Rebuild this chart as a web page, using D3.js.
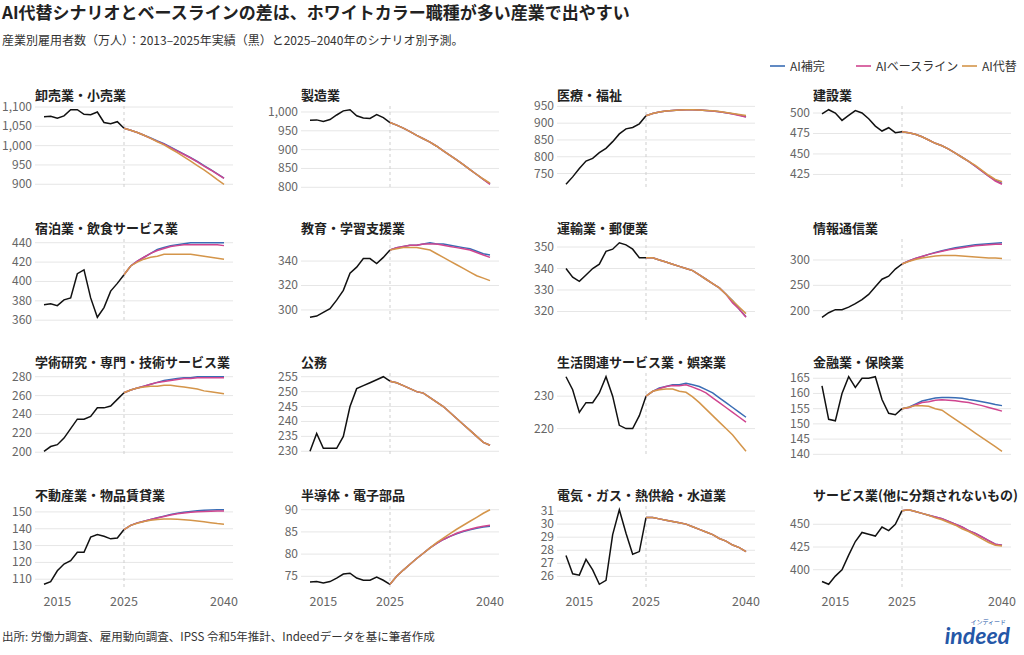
<!DOCTYPE html>
<html><head><meta charset="utf-8">
<script src="https://cdn.jsdelivr.net/npm/d3@7"></script>
<style>body{margin:0;background:#fff;font-family:"Noto Sans CJK JP","Noto Sans",sans-serif;}</style>
</head><body><svg id="c" width="1024" height="655"></svg>
<script>
const actualYears = d3.range(2013, 2026);
const projYears = d3.range(2025, 2041);
const panelTitles = ["卸売業・小売業","製造業","医療・福祉","建設業","宿泊業・飲食サービス業","教育・学習支援業","運輸業・郵便業","情報通信業","学術研究・専門・技術サービス業","公務","生活関連サービス業・娯楽業","金融業・保険業","不動産業・物品賃貸業","半導体・電子部品","電気・ガス・熱供給・水道業","サービス業(他に分類されないもの)"];
const yTicks = [[900,950,1000,1050,1100],[800,850,900,950,1000],[750,800,850,900,950],[425,450,475,500],[360,380,400,420,440],[300,320,340],[320,330,340,350],[200,250,300],[200,220,240,260,280],[230,235,240,245,250,255],[220,230],[140,145,150,155,160,165],[110,120,130,140,150],[75,80,85,90],[26,27,28,29,30,31],[400,425,450]];
const xTicks = [2015, 2025, 2040];
const seriesNames = ["AI補完","AIベースライン","AI代替"];
const actual = [
[1075,1076,1071,1077,1093,1093,1081,1080,1087,1060,1057,1062,1045],
[978,979,975,980,992,1003,1006,990,984,983,993,985,972],
[718,740,765,787,795,812,825,845,868,883,887,898,922],
[499,504,500,491,497,503,500,493,484,478,482,476,477],
[376,377,375,381,383,408,412,383,363,373,390,398,407],
[294,295,298,301,308,316,330,335,342,342,338,343,349],
[340,336,334,337,340,342,348,349,352,351,349,345,345],
[187,196,202,202,207,214,222,232,247,262,268,282,292],
[201,206,208,215,225,235,235,238,247,247,249,256,263],
[230,236,231,231,231,235,245,251,252,253,254,255,253.5],
[236,232,225,228,228,231,236,230,221,220,220,224,230],
[162.5,151.5,151,160,165.5,162,165,165,165.5,158,153.5,153,155],
[107,108.5,115,119,121,126,126,135,136.5,135.5,134,134.5,139.5],
[73.7,73.8,73.5,73.8,74.6,75.5,75.7,74.6,74.1,74.1,74.8,74.1,73.2],
[27.6,26.2,26.1,27.3,26.5,25.4,25.7,29.2,31.1,29.3,27.7,27.9,30.5],
[387,384,393,400,416,431,441,439,437,447,443,450,465]];
const complement = [
[1045,1040,1034,1027,1020,1012,1005,996,987,978,969,959,948,938,927,916],
[972,965,957,948,938,929,920,909,897,885,873,860,847,834,821,809],
[922,929,933,936,938,939,940,940,939,938,936,934,931,928,924,919],
[477,476,474,471,467,463,460,456,451,446,441,435,429,423,418,414],
[407,416,421,425,429,433,435,437,438,439,440,440,440,440,440,440],
[349,351,352,353,353,354,355,354,354,353,352,351,350,348,346,345],
[345,345,344,343,342,341,340,339,337,335,333,331,328,325,321,317.5],
[292,298,303,307,311,315,318,321,324,326,328,330,331,332,333,334],
[263,266,268,270,272,274,276,277,278,279,279,280,280,280,280,280],
[253.5,253,252,251,250,249.5,248,246.5,245,243,241,239,237,235,233,232],
[230,231.5,232.5,233,233.5,233.5,234,233.5,233,232,231,229.5,228,226.5,225,223.5],
[155,155.5,156.5,157.5,158,158.5,158.7,158.7,158.6,158.4,158,157.7,157.3,156.9,156.4,156],
[139.5,142,143.5,144.5,145.5,146.5,147.5,148.5,149.2,149.8,150.3,150.7,151,151.2,151.3,151.3],
[73.2,75,76.4,77.7,79,80.2,81.4,82.4,83.3,84,84.6,85.1,85.5,85.8,86.1,86.3],
[30.5,30.5,30.4,30.3,30.2,30.1,30.0,29.8,29.6,29.4,29.2,28.9,28.7,28.4,28.2,27.9],
[465,466,464,462,460,458,456,453,450,447,443,440,436,432,428,427]];
const baseline = [
[1045,1040,1034,1027,1019,1011,1004,995,986,977,968,958,947,937,926,915],
[972,965,957,948,938,929,920,909,897,885,873,860,847,834,821,808],
[922,929,933,936,938,939,940,940,939,938,936,934,931,927,923,918],
[477,476,474,471,467,463,460,456,451,446,441,435,429,423,417,413],
[407,416,421,425,429,432,434,436,437,438,438,438,438,438,438,437],
[349,351,352,353,353,354,354,354,353,352,351,350,349,347,345,343],
[345,345,344,343,342,341,340,339,337,335,333,331,328,324,321,317.3],
[292,298,303,307,311,314,317,320,322,324,326,328,329,330,331,331],
[263,266,268,270,272,274,275,276,277,278,278,279,279,279,279,279],
[253.5,253,252,251,250,249.5,248,246.5,245,243,241,239,237,235,233,232],
[230,231.5,232.3,233,233.3,233.2,233.5,232.8,232,231,229.5,228,226.5,225,223.5,222],
[155,155.3,156.2,157,157.3,157.8,157.9,157.8,157.6,157.3,157,156.5,156,155.4,154.8,154.2],
[139.5,142,143.5,144.5,145.5,146.4,147.3,148.2,148.9,149.4,149.8,150.1,150.3,150.4,150.5,150.5],
[73.2,75,76.4,77.7,79,80.2,81.4,82.4,83.3,84,84.7,85.2,85.6,86,86.3,86.5],
[30.5,30.5,30.4,30.3,30.2,30.1,30.0,29.8,29.6,29.4,29.2,28.9,28.7,28.4,28.2,27.9],
[465,466,464,462,460,458,456,453,450,447,443,440,436,432,428,427]];
const substitution = [
[1045,1040,1034,1027,1019,1010,1002,992,982,971,960,948,937,925,912,900],
[972,965,957,948,938,929,920,909,897,885,873,860,847,834,822,811],
[922,929,933,936,938,939,940,940,939,938,937,935,932,929,926,923],
[477,476,474,471,467,463,460,456,451,446,441,436,430,424,419,416],
[407,416,420,423,425,426,428,428,428,428,428,427,426,425,424,423],
[349,350,351,351,351,350,349,346,343,340,337,334,331,328,326,324],
[345,345,344,343,342,341,340,339,337,335,333,331,328,325,322,319],
[292,297,301,304,306,308,309,309,309,308,307,306,305,304,304,303],
[263,266,268,269,270,270,271,271,270,269,268,267,265,264,263,262],
[253.5,253,252,251,250,249.5,248,246.5,245,243,241,239,237,235,233,232],
[230,231.5,232,232.2,232.2,231.5,231.2,229.8,228,226,224,222,220,218,215.5,213],
[155,155.5,156,156,155.8,155,154.5,153,151.5,150,148.5,147,145.5,144,142.5,141],
[139.5,142,143.3,144.3,145,145.5,145.8,145.8,145.6,145.3,145,144.6,144.1,143.6,143.1,142.7],
[73.2,75,76.4,77.7,79,80.2,81.4,82.6,83.6,84.6,85.6,86.5,87.4,88.3,89.2,90],
[30.5,30.5,30.4,30.3,30.2,30.1,30.0,29.8,29.6,29.4,29.2,28.9,28.7,28.4,28.2,27.9],
[465,466,464,462,460,457,455,452,449,445,442,438,434,430,427,426]];
const colors = ["#3a6db5","#d0458f","#d4954a"];

const svg = d3.select("#c");
svg.append("text").attr("x",2).attr("y",19).attr("font-size",17).attr("font-weight","bold").attr("fill","#222")
  .text("AI代替シナリオとベースラインの差は、ホワイトカラー職種が多い産業で出やすい");
svg.append("text").attr("x",2).attr("y",45).attr("font-size",12).attr("fill","#333")
  .text("産業別雇用者数（万人）：2013–2025年実績（黒）と2025–2040年のシナリオ別予測。");
svg.append("text").attr("x",2).attr("y",641).attr("font-size",11.5).attr("fill","#333")
  .text("出所: 労働力調査、雇用動向調査、IPSS 令和5年推計、Indeedデータを基に筆者作成");
svg.append("text").attr("x",1010).attr("y",644).attr("text-anchor","end").attr("font-size",23).attr("font-weight","bold").attr("font-style","italic").attr("fill","#2557a7").attr("font-family","Lato, sans-serif").text("indeed");
svg.append("text").attr("x",1006).attr("y",624).attr("text-anchor","end").attr("font-size",6).attr("fill","#2557a7").text("インディード");

const legX = [770, 856, 962];
seriesNames.forEach((n,i)=>{
  const g = svg.append("g");
  g.append("line").attr("x1",legX[i]).attr("x2",legX[i]+15).attr("y1",66).attr("y2",66).attr("stroke",colors[i]).attr("stroke-width",1.6);
  g.append("text").attr("x",legX[i]+20).attr("y",70.5).attr("font-size",12).attr("fill","#333").text(n);
});

const col2025 = [124,390,646,902];
const rowTop = [106,239,373,506];
const pH = 82, pxPerYear = 100/15;

panelTitles.forEach((t,i)=>{
  const r = Math.floor(i/4), c = i%4;
  const x = d3.scaleLinear().domain([2025-13.35, 2040+1.35]).range([col2025[c]-13.35*pxPerYear, col2025[c]+(15+1.35)*pxPerYear]);
  const all = actual[i].concat(complement[i], baseline[i], substitution[i]);
  const [mn,mx] = d3.extent(all); const pad=(mx-mn)*0.05;
  const y = d3.scaleLinear().domain([mn-pad, mx+pad]).range([rowTop[r]+pH, rowTop[r]]);
  const g = svg.append("g");
  const [x0,x1] = x.range();
  g.append("text").attr("x",x0).attr("y",rowTop[r]-6).attr("font-size",13).attr("font-weight","bold").attr("fill","#222").text(t);
  const ticks = yTicks[i].filter(v=>v>=y.domain()[0]&&v<=y.domain()[1]);
  ticks.forEach(v=>{
    g.append("line").attr("x1",x0).attr("x2",x1).attr("y1",y(v)).attr("y2",y(v)).attr("stroke","#e6e6e6").attr("stroke-width",1);
    g.append("text").attr("x",x0-3).attr("y",y(v)+4).attr("text-anchor","end").attr("font-size",12).attr("fill","#666")
      .text(d3.format(",")(v));
  });
  g.append("line").attr("x1",x(2025)).attr("x2",x(2025)).attr("y1",rowTop[r]).attr("y2",rowTop[r]+pH).attr("stroke","#cfcfcf").attr("stroke-dasharray","3,3");
  if (r===3) xTicks.forEach(v=>g.append("text").attr("x",x(v)).attr("y",606).attr("text-anchor","middle").attr("font-size",12.5).attr("fill","#666").text(v));
  const line = d3.line().x(d=>x(d[0])).y(d=>y(d[1]));
  g.append("path").datum(actualYears.map((yr,k)=>[yr,actual[i][k]])).attr("d",line).attr("fill","none").attr("stroke","#111").attr("stroke-width",1.5);
  [complement,baseline,substitution].forEach((s,k)=>{
    g.append("path").datum(projYears.map((yr,j)=>[yr,s[i][j]])).attr("d",line).attr("fill","none").attr("stroke",colors[k]).attr("stroke-width",1.5);
  });
});
</script></body></html>
